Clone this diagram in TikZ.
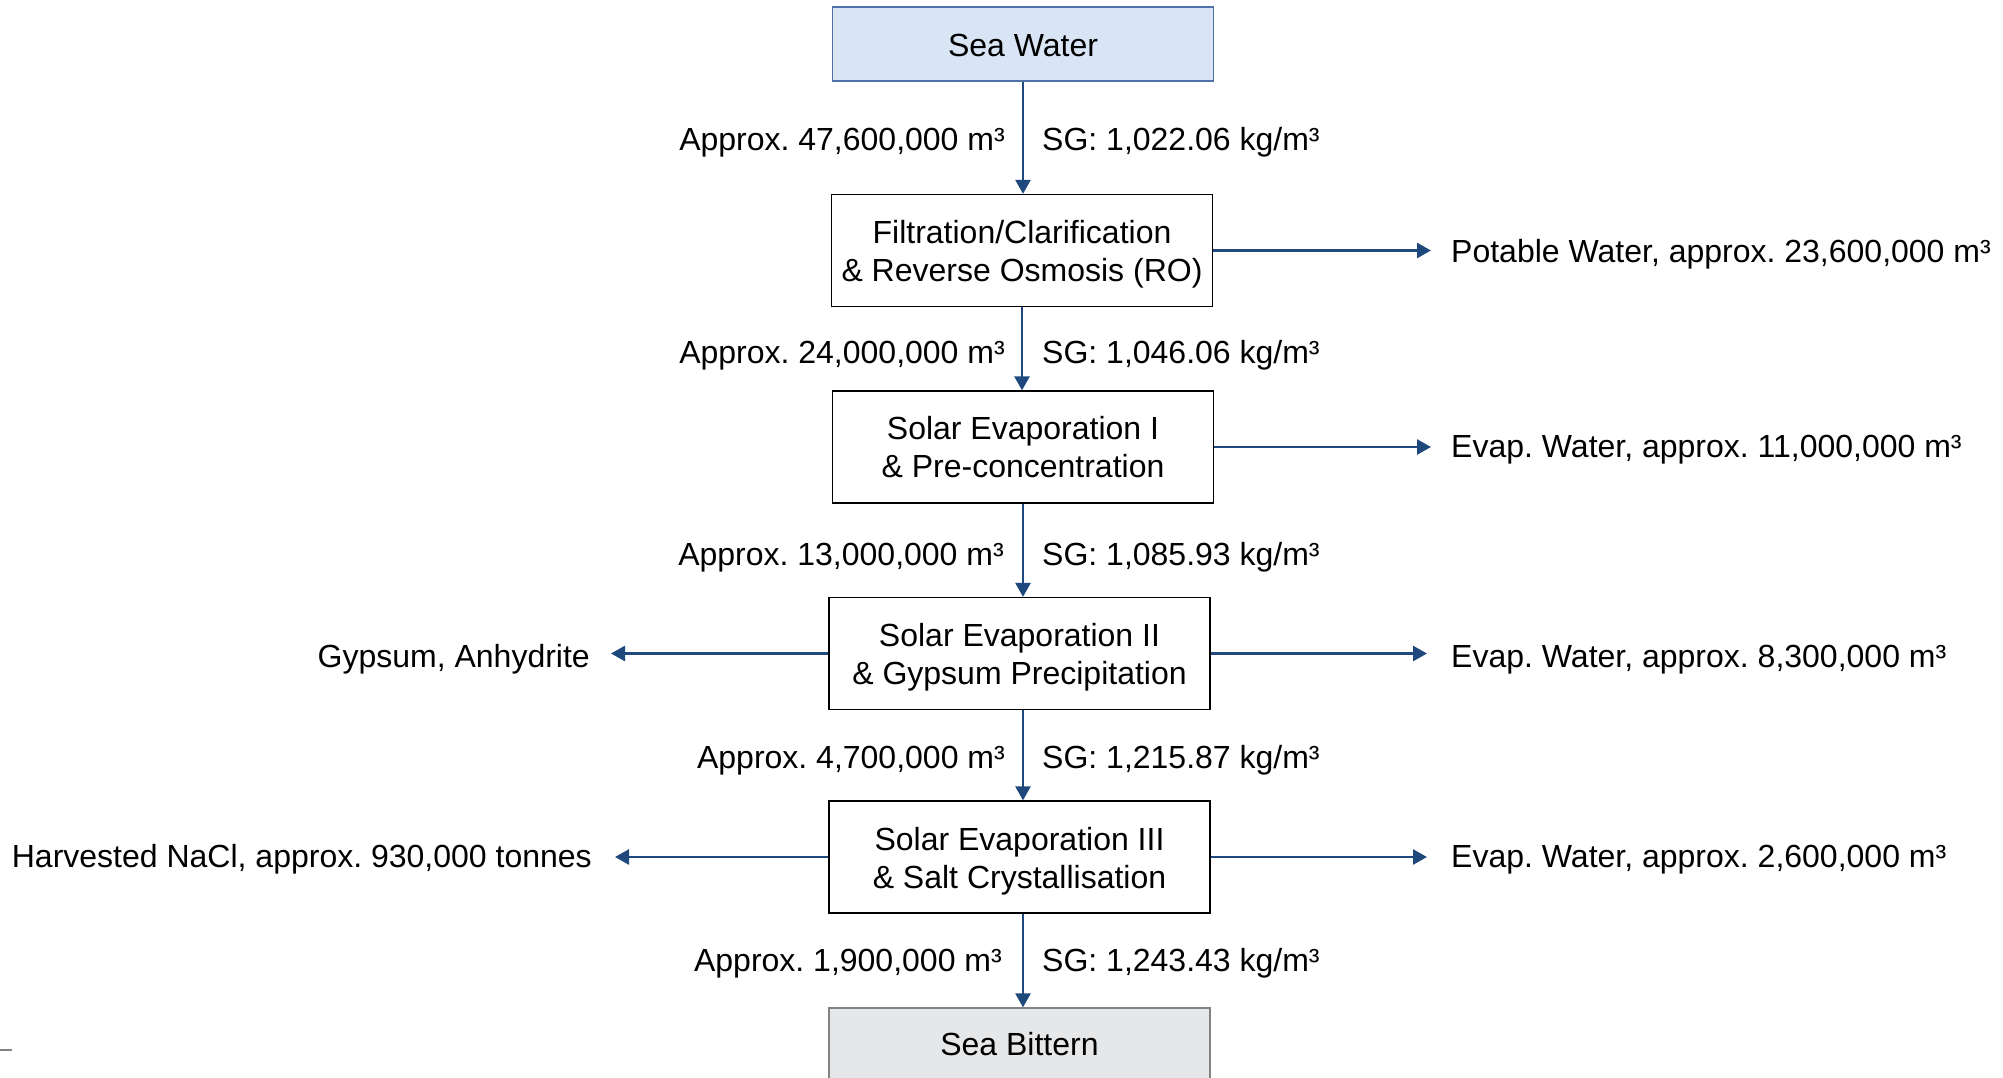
\documentclass[tikz,border=0pt]{standalone}
\usepackage{fontspec}
\setmainfont{Liberation Sans}
\frenchspacing
\usetikzlibrary{arrows.meta}
\definecolor{arrblue}{RGB}{31,73,125}
\definecolor{swfill}{RGB}{217,228,244}
\definecolor{swdraw}{RGB}{80,112,168}
\definecolor{bfill}{RGB}{230,231,233}
\definecolor{bdraw}{RGB}{130,130,130}
\tikzset{
  x=1pt,y=1pt,
  procbox/.style={draw=black,line width=1.3pt,fill=white,minimum width=381pt,minimum height=112pt,inner sep=0pt},
  boxtxt/.style={align=center,inner sep=0pt,font=\fontsize{32}{38}\selectfont},
  arr/.style={draw=arrblue,line width=2.6pt,-{Triangle[length=14pt,width=15pt]}},
  lbl/.style={inner sep=0pt,font=\fontsize{32}{38}\selectfont},
}
\begin{document}
\begin{tikzpicture}
\useasboundingbox (0,0) rectangle (2003,-1077);
\clip (0,0) rectangle (2003,-1077);
% boxes
\node[procbox,draw=swdraw,fill=swfill,minimum height=74pt] (sea) at (1023,-44) {};
\node[boxtxt] (sea-t) at ([yshift=-1pt]sea.center) {Sea Water};
\node[procbox] (filt) at (1022,-250.5) {};
\node[boxtxt] (filt-t) at ([yshift=-4pt]filt.center) {Filtration/Clarification\\\& Reverse Osmosis (RO)};
\node[procbox] (se1) at (1023,-447) {};
\node[boxtxt] (se1-t) at ([yshift=0pt]se1.center) {Solar Evaporation I\\\& Pre-concentration};
\node[procbox] (se2) at (1019.5,-653.5) {};
\node[boxtxt] (se2-t) at ([yshift=-4pt]se2.center) {Solar Evaporation II\\\& Gypsum Precipitation};
\node[procbox] (se3) at (1019.5,-857) {};
\node[boxtxt] (se3-t) at ([yshift=-4pt]se3.center) {Solar Evaporation III\\\& Salt Crystallisation};
\node[procbox,draw=bdraw,fill=bfill,minimum height=74pt] (bit) at (1019.5,-1045) {};
\node[boxtxt] (bit-t) at ([yshift=1pt]bit.center) {Sea Bittern};
% flow labels
\node[lbl,anchor=base east] (l1) at (1005,-150) {Approx. 47,600,000 m³};
\node[lbl,anchor=base west] (r1) at (1042,-150) {SG: 1,022.06 kg/m³};
\node[lbl,anchor=base east] (l2) at (1005,-363) {Approx. 24,000,000 m³};
\node[lbl,anchor=base west] (r2) at (1042,-363) {SG: 1,046.06 kg/m³};
\node[lbl,anchor=base east] (l3) at (1004,-565) {Approx. 13,000,000 m³};
\node[lbl,anchor=base west] (r3) at (1042,-565) {SG: 1,085.93 kg/m³};
\node[lbl,anchor=base east] (l4) at (1005,-768) {Approx. 4,700,000 m³};
\node[lbl,anchor=base west] (r4) at (1042,-768) {SG: 1,215.87 kg/m³};
\node[lbl,anchor=base east] (l5) at (1002,-971) {Approx. 1,900,000 m³};
\node[lbl,anchor=base west] (r5) at (1042,-971) {SG: 1,243.43 kg/m³};
% side outputs
\node[lbl,anchor=base west] (pot) at (1451,-262.5) {Potable Water, approx. 23,600,000 m³};
\node[lbl,anchor=base west] (ev1) at (1451,-457.5) {Evap. Water, approx. 11,000,000 m³};
\node[lbl,anchor=base west] (ev2) at (1451,-667.5) {Evap. Water, approx. 8,300,000 m³};
\node[lbl,anchor=base west] (ev3) at (1451,-867.5) {Evap. Water, approx. 2,600,000 m³};
\node[lbl,anchor=base east] (gyp) at (590,-667.5) {Gypsum, Anhydrite};
\node[lbl,anchor=base east] (nacl) at (592,-867.5) {Harvested NaCl, approx. 930,000 tonnes};
% vertical arrows
\draw[arr] (sea.south) -- (sea.south |- filt.north);
\draw[arr] (filt.south) -- (filt.south |- se1.north);
\draw[arr] (se1.south) -- (se1.south |- se2.north);
\draw[arr] (se1.south |- se2.south) -- (se1.south |- se3.north);
\draw[arr] (se1.south |- se3.south) -- (se1.south |- bit.north);
% horizontal arrows
\draw[arr,shorten >=20pt] (filt.east) -- (filt.east -| pot.west);
\draw[arr,shorten >=20pt] (se1.east) -- (se1.east -| ev1.west);
\draw[arr,shorten >=24pt] (se2.east) -- (se2.east -| ev2.west);
\draw[arr,shorten >=24pt] (se3.east) -- (se3.east -| ev3.west);
\draw[arr,shorten >=21pt] (se2.west) -- (se2.west -| gyp.east);
\draw[arr,shorten >=23pt] (se3.west) -- (se3.west -| nacl.east);
% stray mark at left edge
\draw[bdraw,line width=2pt] (0,-1050) -- (12,-1050);
\end{tikzpicture}
\end{document}
